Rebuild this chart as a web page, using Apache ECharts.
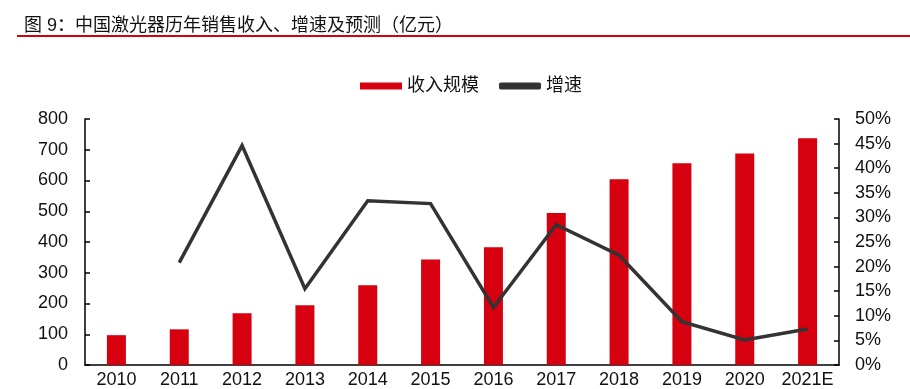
<!DOCTYPE html>
<html>
<head>
<meta charset="utf-8">
<script src="https://cdn.jsdelivr.net/npm/echarts@6/dist/echarts.min.js"></script>
<style>html,body{margin:0;padding:0;background:#fff}#c{width:910px;height:389px}</style>
</head>
<body>
<div id="c"></div>
<script>
var categories = ['2010','2011','2012','2013','2014','2015','2016','2017','2018','2019','2020','2021E'];
var revenue = [97, 116, 168, 194, 259, 343, 383, 494, 604, 656, 688, 737];
var growth = [null, 20.8, 44.6, 15.5, 33.4, 32.8, 11.7, 28.5, 22.3, 8.8, 5.1, 7.3];
var leftTicks = {min: 0, max: 800, interval: 100};
var rightTicks = {min: 0, max: 50, interval: 5};

var FONT = '"Liberation Sans", Arial, "Noto Sans CJK SC", sans-serif';
var chart = echarts.init(document.getElementById('c'));
chart.setOption({
  animation: false,
  textStyle: {fontFamily: FONT},
  title: {
    text: '图 9：中国激光器历年销售收入、增速及预测（亿元）',
    left: 19, top: 12,
    textStyle: {fontSize: 18, fontWeight: 'normal', color: '#111', fontFamily: FONT}
  },
  graphic: [{
    type: 'rect', shape: {x: 17, y: 35, width: 893, height: 2},
    style: {fill: '#D7000F'}, silent: true
  }],
  legend: {
    left: 355, top: 72,
    itemWidth: 42, itemHeight: 7, itemGap: 20,
    textStyle: {fontSize: 18, color: '#111', fontFamily: FONT},
    data: [
      {name: '收入规模', icon: 'rect'},
      {name: '增速', icon: 'roundRect', itemStyle: {color: '#333'}}
    ]
  },
  grid: {left: 85, right: 71, top: 119, bottom: 23},
  xAxis: {
    type: 'category', data: categories,
    axisLine: {lineStyle: {color: '#000', width: 1.5}},
    axisTick: {show: false},
    axisLabel: {fontSize: 18, color: '#111', margin: 6, interval: 0}
  },
  yAxis: [{
    type: 'value', min: leftTicks.min, max: leftTicks.max, interval: leftTicks.interval,
    axisLine: {show: true, lineStyle: {color: '#000', width: 1.5}},
    axisTick: {show: true, inside: true, length: 5, lineStyle: {color: '#000', width: 1.5}},
    splitLine: {show: false},
    axisLabel: {fontSize: 18, color: '#111', margin: 17}
  }, {
    type: 'value', min: rightTicks.min, max: rightTicks.max, interval: rightTicks.interval,
    position: 'right',
    axisLine: {show: true, lineStyle: {color: '#000', width: 1.5}},
    axisTick: {show: true, inside: true, length: 5, lineStyle: {color: '#000', width: 1.5}},
    splitLine: {show: false},
    axisLabel: {fontSize: 18, color: '#111', margin: 16, formatter: '{value}%'}
  }],
  series: [{
    name: '收入规模', type: 'bar', data: revenue, yAxisIndex: 0,
    barWidth: 19, itemStyle: {color: '#D7000F'}
  }, {
    name: '增速', type: 'line', data: growth, yAxisIndex: 1,
    symbol: 'none', connectNulls: false,
    lineStyle: {color: '#333', width: 3.5, join: 'miter'},
    itemStyle: {color: '#333'}
  }]
});
</script>
</body>
</html>
